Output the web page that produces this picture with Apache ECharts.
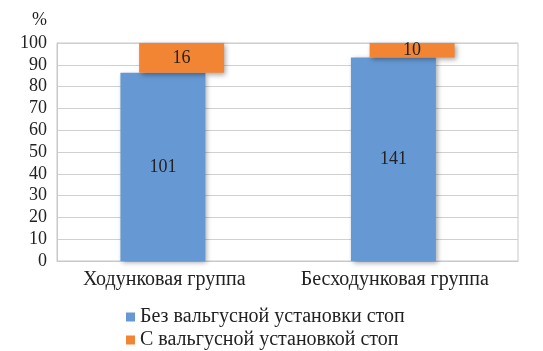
<!DOCTYPE html>
<html>
<head>
<meta charset="utf-8">
<script src="https://cdn.jsdelivr.net/npm/echarts@6/dist/echarts.min.js"></script>
<style>
    html, body { margin: 0; padding: 0; background: #fff; }
    #chart { width: 543px; height: 351px; }
</style>
</head>
<body>
<div id="chart"></div>
<script>
const categories = ['Ходунковая группа', 'Бесходунковая группа'];
const seriesNames = ['Без вальгусной установки стоп', 'С вальгусной установкой стоп'];
// число детей (подписи)
const countWithout = [101, 141];
const countWith = [16, 10];
// доля, % (высота столбцов)
const pctWithout = [86.3, 93.4];
const pctWith = [13.7, 6.6];
const yTicks = { min: 0, max: 100, interval: 10 };

const blue = '#6699d3';
const orange = '#f28534';
const font = '"Liberation Serif", "DejaVu Serif", serif';
const shadow = {
    shadowBlur: 5,
    shadowColor: 'rgba(0,0,0,0.35)',
    shadowOffsetX: 2,
    shadowOffsetY: 2
};
const legendText = { fontFamily: font, fontSize: 20, color: '#222' };

const myChart = echarts.init(document.getElementById('chart'));
const option = {
    animation: false,
    textStyle: { fontFamily: font },
    grid: {
        show: true,
        left: 57,
        right: 25,
        top: 43,
        bottom: 90,
        borderColor: '#c8c8c8',
        borderWidth: 1
    },
    // две строки легенды, одна под другой
    legend: [
        {
            left: 121,
            top: 302,
            itemWidth: 9,
            itemHeight: 9,
            icon: 'rect',
            data: [seriesNames[0]],
            textStyle: legendText
        },
        {
            left: 121,
            top: 325,
            itemWidth: 9,
            itemHeight: 9,
            icon: 'rect',
            data: [seriesNames[1]],
            textStyle: legendText
        }
    ],
    xAxis: {
        type: 'category',
        data: categories,
        axisTick: { show: false },
        axisLine: { lineStyle: { color: '#c8c8c8' } },
        axisLabel: {
            interval: 0,
            fontFamily: font,
            fontSize: 20,
            color: '#222',
            margin: 9,
            padding: [0, 16, 0, 0]
        }
    },
    yAxis: {
        type: 'value',
        min: yTicks.min,
        max: yTicks.max,
        interval: yTicks.interval,
        name: '%',
        nameGap: 14,
        nameTextStyle: {
            fontFamily: font,
            fontSize: 18,
            color: '#222',
            align: 'right',
            padding: [0, 10, 0, 0]
        },
        axisLine: { show: true, lineStyle: { color: '#c8c8c8' } },
        axisTick: { show: false },
        splitLine: { lineStyle: { color: '#d0d0d0' } },
        axisLabel: { fontFamily: font, fontSize: 18, color: '#222', margin: 10 }
    },
    series: [
        {
            name: seriesNames[0],
            type: 'bar',
            stack: 'a',
            data: pctWithout,
            barWidth: 85,
            barGap: '-78%',
            itemStyle: Object.assign({ color: blue }, shadow),
            label: {
                show: true,
                position: 'inside',
                fontFamily: font,
                fontSize: 18,
                color: '#222',
                formatter: (p) => countWithout[p.dataIndex]
            }
        },
        {
            name: 'base',
            type: 'bar',
            stack: 'b',
            data: pctWithout,
            barWidth: 85,
            itemStyle: { color: 'transparent' },
            emphasis: { disabled: true },
            silent: true
        },
        {
            name: seriesNames[1],
            type: 'bar',
            stack: 'b',
            data: pctWith,
            barWidth: 85,
            itemStyle: Object.assign({ color: orange }, shadow),
            label: {
                show: true,
                position: 'inside',
                fontFamily: font,
                fontSize: 18,
                color: '#222',
                formatter: (p) => countWith[p.dataIndex]
            }
        }
    ]
};
myChart.setOption(option);
</script>
</body>
</html>
